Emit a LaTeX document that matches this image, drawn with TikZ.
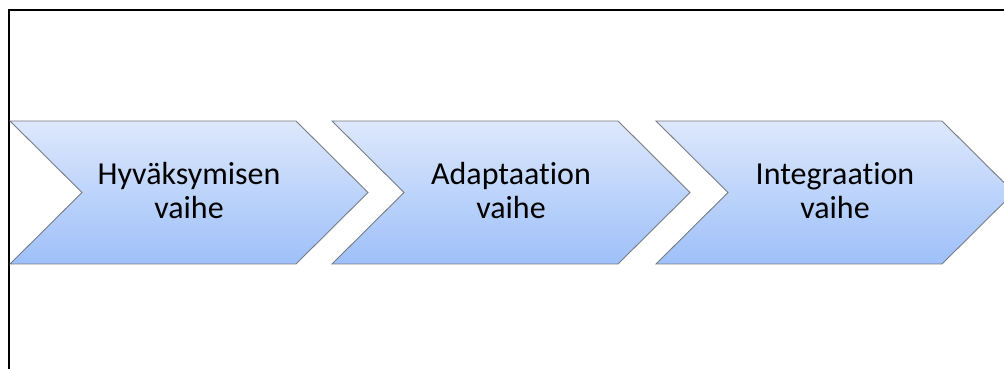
\documentclass[tikz,border=0pt]{standalone}
\usepackage{fontspec}
\setmainfont[Ligatures={NoCommon}]{Carlito}
\usepackage{tikz}
\usetikzlibrary{positioning}
\definecolor{vaiheYla}{RGB}{221,232,252}
\definecolor{vaiheAla}{RGB}{158,192,249}
\definecolor{vaiheReuna}{RGB}{120,124,130}
% nuolilohko: vasen reuna x=#1, nimi #2, teksti #3
\def\vaihe(#1)#2#3{
	\draw[draw=vaiheReuna, line width=0.9pt, top color=vaiheYla, bottom color=vaiheAla]
	(#1,248) -- ++(286,0) -- ++(72,-71.5) -- ++(-72,-71.5) -- ++(-286,0) -- ++(72,71.5) -- cycle;
	\node[teksti] (#2) at (#1+179,178.5) {#3};
}

\begin{document}
\begin{tikzpicture}[x=1pt,y=1pt,
	teksti/.style={align=center, inner sep=0pt, font=\fontsize{32}{34}\selectfont}]
	\useasboundingbox (0,0) rectangle (1004,369);
	\clip (0,0) rectangle (1004,369);
	
	%%%%%%%%%% kehys %%%%%%%%%%%%
	\draw[line width=1.6pt] (9,0) -- (9,359) -- (1004,359);
	
	%%%%%%%%%% vaiheet %%%%%%%%%%
	\vaihe(10){hyv}{Hyväksymisen\\vaihe}
	\vaihe(332){ada}{Adaptaation\\vaihe}
	\vaihe(656){int}{Integraation\\vaihe}
\end{tikzpicture}
\end{document}
